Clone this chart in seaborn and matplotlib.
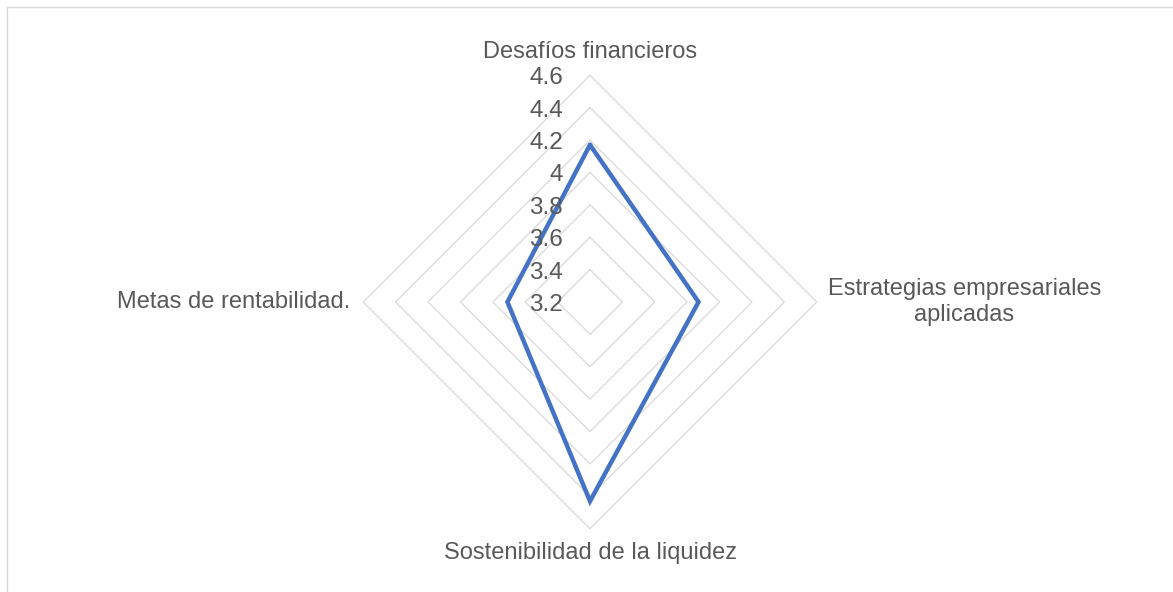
import numpy as np
import pandas as pd
import matplotlib.pyplot as plt
import seaborn as sns
from matplotlib.patches import Rectangle

# Radar chart values (axis starts at 3.2)
categories = [
    "Desafíos financieros",
    "Estrategias empresariales\naplicadas",
    "Sostenibilidad de la liquidez",
    "Metas de rentabilidad.",
]
values = [4.17, 3.87, 4.43, 3.71]
ticks = [3.2, 3.4, 3.6, 3.8, 4.0, 4.2, 4.4, 4.6]
tick_labels = ["3.2", "3.4", "3.6", "3.8", "4", "4.2", "4.4", "4.6"]

sns.set_theme(style="white")
plt.rcParams["font.family"] = ["Liberation Sans", "DejaVu Sans"]
text_color = "#595959"
grid_color = "#D9D9D9"

fig = plt.figure(figsize=(11.73, 5.92), dpi=100)
ax = fig.add_axes([0.3097, 0.1069, 0.3866, 0.766], projection="polar")
ax.set_theta_zero_location("N")
ax.set_theta_direction(-1)
ax.set_ylim(ticks[0], ticks[-1])
ax.grid(False)
ax.spines["polar"].set_visible(False)
ax.set_xticks([])
ax.set_yticks([])
ax.patch.set_alpha(0)

angles = np.linspace(0, 2 * np.pi, len(categories), endpoint=False)
closed = np.append(angles, angles[0])

# diamond shaped gridlines
for t in ticks[1:]:
    ax.plot(closed, [t] * len(closed), color=grid_color, lw=0.9, zorder=1, clip_on=False)

df = pd.DataFrame({"angle": closed, "value": values + values[:1]})
sns.lineplot(
    data=df, x="angle", y="value", ax=ax, sort=False, estimator=None,
    color="#4472C4", lw=3.2, solid_joinstyle="miter", zorder=3, clip_on=False,
)
ax.set_xlabel("")
ax.set_ylabel("")

# value labels along the vertical axis
for t, lab in zip(ticks, tick_labels):
    ax.annotate(lab, xy=(0, t), xytext=(-27, -3), textcoords="offset pixels",
                ha="right", va="center", fontsize=17.5, color=text_color, zorder=4)

# category labels
offsets = [(0, 23), (11, 0), (0, -24), (-13, 0)]
aligns = ["center", "left", "center", "right"]
for ang, cat, off, ha in zip(angles, categories, offsets, aligns):
    ax.annotate(cat, xy=(ang, ticks[-1]), xytext=off, textcoords="offset pixels",
                ha=ha, va="center", multialignment="center",
                fontsize=17, color=text_color, linespacing=1.2)

fig.patches.append(Rectangle((7 / 1173, -0.05), 2, 1.039, transform=fig.transFigure,
                             fill=False, edgecolor=grid_color, lw=1))

fig.savefig("out.png", dpi=100, facecolor="white")
